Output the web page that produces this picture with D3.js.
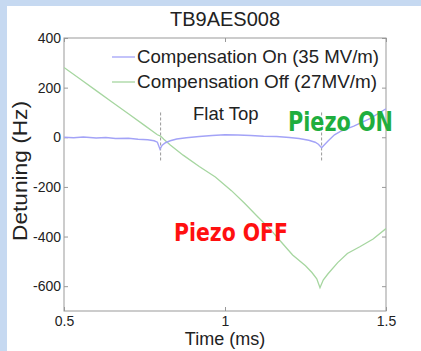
<!DOCTYPE html>
<html><head><meta charset="utf-8">
<script src="https://cdn.jsdelivr.net/npm/d3@7"></script>
<style>body{margin:0;background:#fff}svg{display:block}text{font-family:"Liberation Sans",Arial,sans-serif}</style>
</head><body>
<svg id="c" width="421" height="351"></svg>
<script>
// ---- data ----
const title = "TB9AES008";
const xTicks = [0.5, 1, 1.5];
const yTicks = [400, 200, 0, -200, -400, -600];
const seriesNames = ["Compensation On (35 MV/m)", "Compensation Off (27MV/m)"];
const onTime = [0.5,0.53,0.56,0.6,0.63,0.66,0.7,0.73,0.76,0.78,0.79,0.798,0.805,0.815,0.83,0.85,0.88,0.92,0.96,1.0,1.04,1.08,1.12,1.16,1.2,1.23,1.26,1.28,1.29,1.3,1.32,1.34,1.36,1.4,1.45,1.5];
const onVal  = [0,-2,1,-3,-1,-5,-4,-8,-10,-14,-20,-48,-32,-22,-14,-7,-2,3,7,10,9,7,4,3,-1,-5,-12,-20,-28,-42,-15,10,25,45,75,115];
const offTime = [0.5,0.55,0.6,0.65,0.7,0.75,0.79,0.8,0.81,0.83,0.87,0.92,0.97,1.02,1.06,1.1,1.14,1.18,1.21,1.25,1.27,1.285,1.295,1.305,1.32,1.35,1.38,1.42,1.46,1.5];
const offVal  = [281,235,188,141,95,48,10,5,-8,-31,-72,-118,-160,-215,-265,-318,-370,-430,-474,-518,-545,-570,-606,-575,-550,-505,-468,-440,-410,-368];
const markerTimes = [0.8, 1.3];
const markerRange = [100, -100];
const annotations = ["Flat Top", "Piezo ON", "Piezo OFF"];
const xLabel = "Time (ms)", yLabel = "Detuning (Hz)";

// ---- layout ----
const svg = d3.select("#c");
svg.append("rect").attr("width",421).attr("height",351).attr("fill","#c6d9f1");
svg.append("rect").attr("x",7).attr("y",6).attr("width",414).attr("height",345).attr("fill","#fff");

const L=64,R=386,T=38,B=311;
const x = d3.scaleLinear().domain([0.5,1.5]).range([L,R]);
const y = d3.scaleLinear().domain([-700,400]).range([B,T]);
const axisCol="#999", txtCol="#222";
const fmt = d => String(d);

function styleAxis(g){
  g.select(".domain").remove();
  g.selectAll(".tick line").attr("stroke",axisCol);
  g.selectAll(".tick text").attr("fill",txtCol).style("font-size","14px").style("font-family","Liberation Sans, Arial, sans-serif");
}
svg.append("g").attr("transform",`translate(0,${B})`).call(d3.axisBottom(x).tickValues(xTicks).tickFormat(fmt).tickSize(-4).tickPadding(5)).call(styleAxis);
svg.append("g").attr("transform",`translate(0,${T})`).call(d3.axisTop(x).tickValues(xTicks).tickFormat("").tickSize(-4)).call(styleAxis);
svg.append("g").attr("transform",`translate(${L},0)`).call(d3.axisLeft(y).tickValues(yTicks).tickFormat(fmt).tickSize(-4).tickPadding(3)).call(styleAxis);
svg.append("g").attr("transform",`translate(${R},0)`).call(d3.axisRight(y).tickValues(yTicks).tickFormat("").tickSize(-4)).call(styleAxis);
svg.append("rect").attr("x",L).attr("y",T).attr("width",R-L).attr("height",B-T).attr("fill","none").attr("stroke",axisCol).attr("stroke-width",1);

svg.append("clipPath").attr("id","cp").append("rect").attr("x",L).attr("y",T).attr("width",R-L).attr("height",B-T);
const plot = svg.append("g").attr("clip-path","url(#cp)");

// markers
markerTimes.forEach(t=>{
  plot.append("line").attr("x1",x(t)).attr("x2",x(t)).attr("y1",y(markerRange[0])).attr("y2",y(markerRange[1]))
    .attr("stroke","#999").attr("stroke-width",1).attr("stroke-dasharray","3,2");
});

const line = d3.line().x(d=>x(d[0])).y(d=>y(d[1]));
const colOn="#a3a3f7", colOff="#a6d6a0";
plot.append("path").datum(offTime.map((t,i)=>[t,offVal[i]])).attr("d",line).attr("fill","none").attr("stroke",colOff).attr("stroke-width",1.3);
plot.append("path").datum(onTime.map((t,i)=>[t,onVal[i]])).attr("d",line).attr("fill","none").attr("stroke",colOn).attr("stroke-width",1.4);

// legend
[[colOn,63],[colOff,88]].forEach(([c,by],i)=>{
  svg.append("line").attr("x1",112).attr("x2",135).attr("y1",by-6).attr("y2",by-6).attr("stroke",c).attr("stroke-width",1.3);
  svg.append("text").attr("x",137).attr("y",by).attr("fill",txtCol).style("font-size","19px")
    .attr("textLength",i===0?242:240).attr("lengthAdjust","spacingAndGlyphs").text(seriesNames[i]);
});

// title & labels
svg.append("text").attr("x",225).attr("y",26).attr("text-anchor","middle").attr("fill",txtCol).style("font-size","20px").text(title);
svg.append("text").attr("x",225).attr("y",345).attr("text-anchor","middle").attr("fill",txtCol).style("font-size","18px").text(xLabel);
svg.append("text").attr("transform","translate(27,171) rotate(-90)").attr("text-anchor","middle").attr("fill",txtCol)
  .style("font-size","20px").attr("textLength",140).attr("lengthAdjust","spacingAndGlyphs").text(yLabel);

// annotations
svg.append("text").attr("x",193).attr("y",120).attr("fill",txtCol).style("font-size","18.5px").text(annotations[0]);
svg.append("text").attr("x",288).attr("y",131).attr("fill","#1fae3e").style("font-size","26px").style("font-weight","bold")
  .style("font-family","DejaVu Sans, sans-serif").attr("textLength",105).attr("lengthAdjust","spacingAndGlyphs").text(annotations[1]);
svg.append("text").attr("x",174).attr("y",241).attr("fill","#ff1010").style("font-size","25px").style("font-weight","bold")
  .style("font-family","DejaVu Sans, sans-serif").attr("textLength",114).attr("lengthAdjust","spacingAndGlyphs").text(annotations[2]);
</script>
</body></html>
